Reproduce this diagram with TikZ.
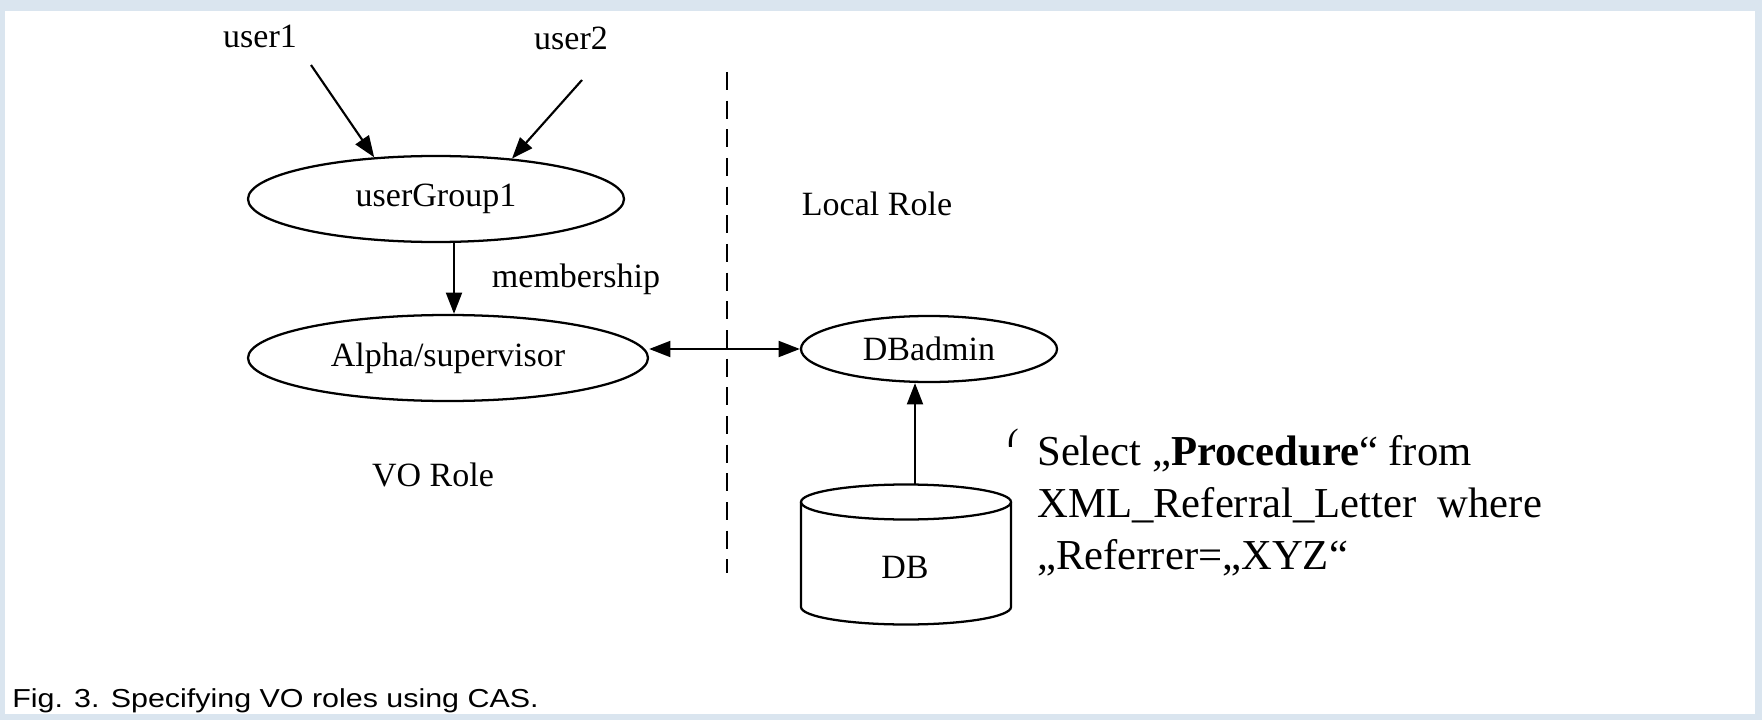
\documentclass[tikz,border=0pt]{standalone}
\usepackage{graphicx}
\usepackage{fontspec}
\setmainfont{Liberation Serif}
\newfontfamily\capfont{Liberation Sans}
\usetikzlibrary{shapes.geometric,arrows.meta}
\definecolor{frameblue}{HTML}{DAE5EF}

\begin{document}
\begin{tikzpicture}[x=0.75pt,y=-0.75pt,
  lbl/.style={font=\fontsize{25.5}{30}\selectfont, inner sep=0pt},
  blbl/.style={lbl, anchor=base},
  oval/.style={ellipse, draw, line width=1.7pt, inner sep=0pt,
    font=\fontsize{25.5}{30}\selectfont},
  arr/.style={line width=1.6pt, -{Triangle[length=16pt,width=12pt]}},
  dblarr/.style={line width=1.6pt, {Triangle[length=16pt,width=12pt]}-{Triangle[length=16pt,width=12pt]}},
  divider/.style={line width=1.3pt, dash pattern=on 13.5pt off 8pt},
  sql/.style={anchor=base west, inner sep=0pt, font=\fontsize{32}{39}\selectfont},
]
% frame
\useasboundingbox (0,0) rectangle (1762,720);
\fill[frameblue] (0,0) rectangle (1762,720);
\fill[white] (5,11) rectangle (1755,714);

% role nodes
\node[oval, minimum width=282pt, minimum height=64.5pt] (ug) at (436,199) {\raisebox{-2pt}{userGroup1}};
\node[oval, minimum width=300pt, minimum height=64.5pt] (alpha) at (448,358) {\raisebox{-1.5pt}{Alpha/supervisor}};
\node[oval, minimum width=192pt, minimum height=49.5pt] (dbadmin) at (929,349) {DBadmin};

% users
\node[blbl] (user1) at (260,48) {user1};
\node[blbl] (user2) at (571,50) {user2};
\coordinate (u1s) at (311,65);
\coordinate (u2s) at (582,80);
\draw[arr] (u1s) -- (ug.146);
\draw[arr] (u2s) -- (ug.28);

% membership
\coordinate (mx) at (454,0);
\draw[arr] (ug.south -| mx) -- (alpha.north -| mx);
\node[blbl] (member) at (576,287) {membership};

% section labels
\node[blbl] (local) at (877,216) {Local Role};
\node[blbl] (vo) at (433,486) {VO Role};

% dashed divider
\coordinate (dtop) at (727,72);
\coordinate (dbot) at (727,573);
\draw[divider] (dtop) -- (dbot);

% link between the two roles
\draw[dblarr] (dbadmin.west -| alpha.east) -- (dbadmin.west);

% database cylinder
\draw[line width=1.7pt] (906,502) ellipse [x radius=105, y radius=17.5];
\draw[line width=1.7pt] (801,502) -- (801,607)
  .. controls (801,616.67) and (848,624.5) .. (906,624.5)
  .. controls (964,624.5) and (1011,616.67) .. (1011,607) -- (1011,502);
\node[blbl] (db) at (905,578) {DB};
\coordinate (dbtop) at (915,485);
\draw[arr] (dbtop) -- (dbtop |- dbadmin.south);

% glyph partly hidden under the query box
\begin{scope}
  \clip (995,415) rectangle (1018,446);
  \node[lbl] (stray) at (1013,444) {(};
\end{scope}

% query text
\node[sql] (q1) at (1037,465) {Select „\textbf{Procedure}“ from};
\node[sql] (q2) at (1037,517) {XML\_Referral\_Letter\ \ where};
\node[sql] (q3) at (1037,569) {„Referrer=„XYZ“};

% caption
\node[anchor=base west, inner sep=0pt, font=\capfont\fontsize{19.5}{23}\selectfont] (cap) at (12,707)
  {\scalebox{1.17}[1]{Fig. 3. Specifying VO roles using CAS.}};
\end{tikzpicture}
\end{document}
